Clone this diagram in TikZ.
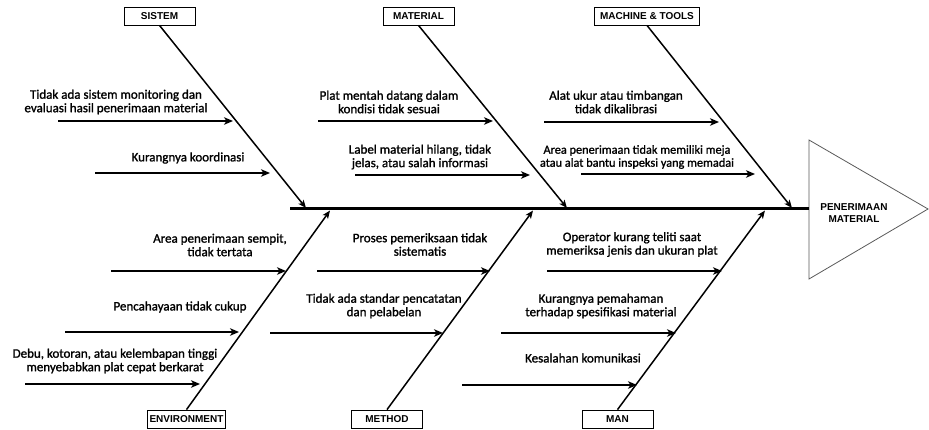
\documentclass[tikz,border=0pt]{standalone}
\usepackage{fontspec}
\setmainfont{Carlito}
\newfontfamily\causefont{Carlito}[FakeBold=1.3]
\newfontfamily\labelfont{Liberation Sans}
\usetikzlibrary{arrows.meta}

\begin{document}
\begin{tikzpicture}[x=1pt,y=-1pt,
  cause/.style={font=\causefont\fontsize{13}{13.5}\selectfont, align=center, inner sep=0pt},
  catbox/.style={draw=black, line width=0.8pt, minimum width=71pt, minimum height=18pt,
    inner sep=2pt, font=\labelfont\bfseries\fontsize{10}{11}\selectfont},
  bone/.style={line width=1.5pt, -{Stealth[length=8pt,width=6.5pt,inset=2pt]}},
  subarrow/.style={line width=1.7pt, -{Stealth[length=9pt,width=7.5pt,inset=2.5pt]}},
  spine/.style={line width=3pt},
  headline/.style={draw=black!65, line width=0.8pt},
  headtext/.style={font=\labelfont\bfseries\fontsize{10}{12}\selectfont, align=center, inner sep=0pt}
]
\useasboundingbox (0,0) rectangle (929,430);

% fish head
\coordinate (hT) at (809,140);
\coordinate (hB) at (809,279);
\coordinate (hA) at (928,209);
\coordinate (hM) at (809,209);
\draw[headline] (hT) -- (hA) -- (hB) -- cycle;
\node[headtext] (effect) at (854,213) {PENERIMAAN\\MATERIAL};

% spine
\coordinate (spineL) at (290,209);
\draw[spine] (spineL) -- (hM);

% category boxes
\node[catbox] (sistem)   at (159.5,16) {SISTEM};
\node[catbox] (material) at (418.5,16) {MATERIAL};
\node[catbox, minimum width=105pt] (machine) at (647,16) {MACHINE \& TOOLS};
\node[catbox] (env)      at (186.5,419) {ENVIRONMENT};
\node[catbox] (method)   at (387,419) {METHOD};
\node[catbox] (man)      at (617.5,419) {MAN};

% bone tips on the spine
\coordinate (tS)  at (306,208);
\coordinate (tMa) at (567,208);
\coordinate (tMT) at (792,208);
\coordinate (tE)  at (330,210.5);
\coordinate (tMe) at (533,210.5);
\coordinate (tMn) at (765,210.5);

\draw[bone] (sistem.south)   -- (tS);
\draw[bone] (material.south) -- (tMa);
\draw[bone] (machine.south)  -- (tMT);
\draw[bone] (env.north)      -- (tE);
\draw[bone] (method.north)   -- (tMe);
\draw[bone] (man.north)      -- (tMn);

% cause arrows: start and end points
\coordinate (s1a) at (58,121);   \coordinate (s1b) at (233,121);
\coordinate (s2a) at (95,173);   \coordinate (s2b) at (270,173);
\coordinate (m1a) at (318,121);  \coordinate (m1b) at (493,121);
\coordinate (m2a) at (355,175);  \coordinate (m2b) at (530,175);
\coordinate (t1a) at (544,122);  \coordinate (t1b) at (719,122);
\coordinate (t2a) at (581,174);  \coordinate (t2b) at (755,174);
\coordinate (e1a) at (111,271);  \coordinate (e1b) at (286,271);
\coordinate (e2a) at (65,332);   \coordinate (e2b) at (239,332);
\coordinate (e3a) at (25,384);   \coordinate (e3b) at (200,384);
\coordinate (d1a) at (317,271);  \coordinate (d1b) at (490,271);
\coordinate (d2a) at (270,333);  \coordinate (d2b) at (443,333);
\coordinate (n1a) at (547,271);  \coordinate (n1b) at (722,271);
\coordinate (n2a) at (501,333);  \coordinate (n2b) at (676,333);
\coordinate (n3a) at (462,385);  \coordinate (n3b) at (637,385);

\foreach \c in {s1,s2,m1,m2,t1,t2,e1,e2,e3,d1,d2,n1,n2,n3}
  \draw[subarrow] (\c a) -- (\c b);

% cause texts
\node[cause] (s1) at (116,102) {Tidak ada sistem monitoring dan\\evaluasi hasil penerimaan material};
\node[cause] (s2) at (188,158) {Kurangnya koordinasi};
\node[cause] (m1) at (389,102) {Plat mentah datang dalam\\kondisi tidak sesuai};
\node[cause] (m2) at (420,157) {Label material hilang, tidak\\jelas, atau salah informasi};
\node[cause] (t1) at (616,102) {Alat ukur atau timbangan\\tidak dikalibrasi};
\node[cause, font=\causefont\fontsize{12.3}{13}\selectfont] (t2) at (637,157) {Area penerimaan tidak memiliki meja\\atau alat bantu inspeksi yang memadai};
\node[cause] (e1) at (220,245) {Area penerimaan sempit,\\tidak tertata};
\node[cause] (e2) at (180,307) {Pencahayaan tidak cukup};
\node[cause] (e3) at (115,361) {Debu, kotoran, atau kelembapan tinggi\\menyebabkan plat cepat berkarat};
\node[cause] (d1) at (420,244.5) {Proses pemeriksaan tidak\\sistematis};
\node[cause] (d2) at (384,306) {Tidak ada standar pencatatan\\dan pelabelan};
\node[cause] (n1) at (632,244.5) {Operator kurang teliti saat\\memeriksa jenis dan ukuran plat};
\node[cause] (n2) at (601,306) {Kurangnya pemahaman\\terhadap spesifikasi material};
\node[cause] (n3) at (583,358) {Kesalahan komunikasi};
\end{tikzpicture}
\end{document}
